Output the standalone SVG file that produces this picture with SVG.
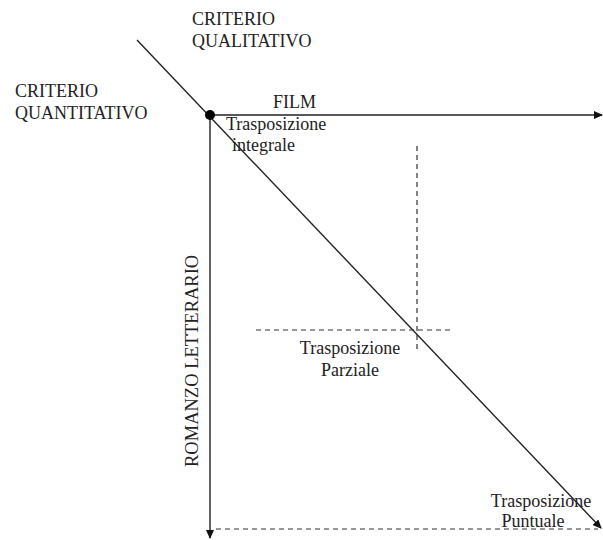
<svg xmlns="http://www.w3.org/2000/svg" width="603" height="540" viewBox="0 0 603 540">
<style>
.l{stroke:#222;stroke-width:1.4;fill:none}
.d{stroke:#333;stroke-width:1.2;fill:none;stroke-dasharray:5,4}
</style>
<defs>
<marker id="a" markerWidth="9" markerHeight="8" refX="8" refY="4" orient="auto" markerUnits="userSpaceOnUse">
<path d="M0,0 L9,4 L0,8 Z" fill="#111"/>
</marker>
</defs>
<rect width="603" height="540" fill="#fff"/>
<g id="connectors">
<line class="l" x1="137" y1="40" x2="601" y2="528" marker-end="url(#a)"/>
<line class="l" x1="210" y1="115" x2="602" y2="115" marker-end="url(#a)"/>
<line class="l" x1="210" y1="115" x2="210" y2="538" marker-end="url(#a)"/>
<line class="d" x1="216" y1="529" x2="598" y2="529"/>
<line class="d" x1="417" y1="146" x2="417" y2="352"/>
<line class="d" x1="256" y1="330" x2="450" y2="330"/>
</g>
<g font-family="Liberation Serif, DejaVu Serif, serif" font-size="18" fill="#222">
<g id="origin"><circle cx="210" cy="115" r="5" fill="#000"/></g>
<g id="qualitativo"><text x="192" y="25">CRITERIO</text><text x="192" y="47">QUALITATIVO</text></g>
<g id="quantitativo"><text x="15" y="97">CRITERIO</text><text x="15" y="119">QUANTITATIVO</text></g>
<g id="film"><text x="273" y="108">FILM</text></g>
<g id="integrale"><text x="226" y="130">Trasposizione</text><text x="232" y="151">integrale</text></g>
<g id="romanzo"><text font-size="18.5" transform="translate(198,467) rotate(-90)">ROMANZO LETTERARIO</text></g>
<g id="parziale"><text x="350" y="354" text-anchor="middle">Trasposizione</text><text x="350" y="376" text-anchor="middle">Parziale</text></g>
<g id="puntuale"><text x="541" y="507" text-anchor="middle">Trasposizione</text><text x="533" y="527" text-anchor="middle">Puntuale</text></g>
</g>
</svg>
